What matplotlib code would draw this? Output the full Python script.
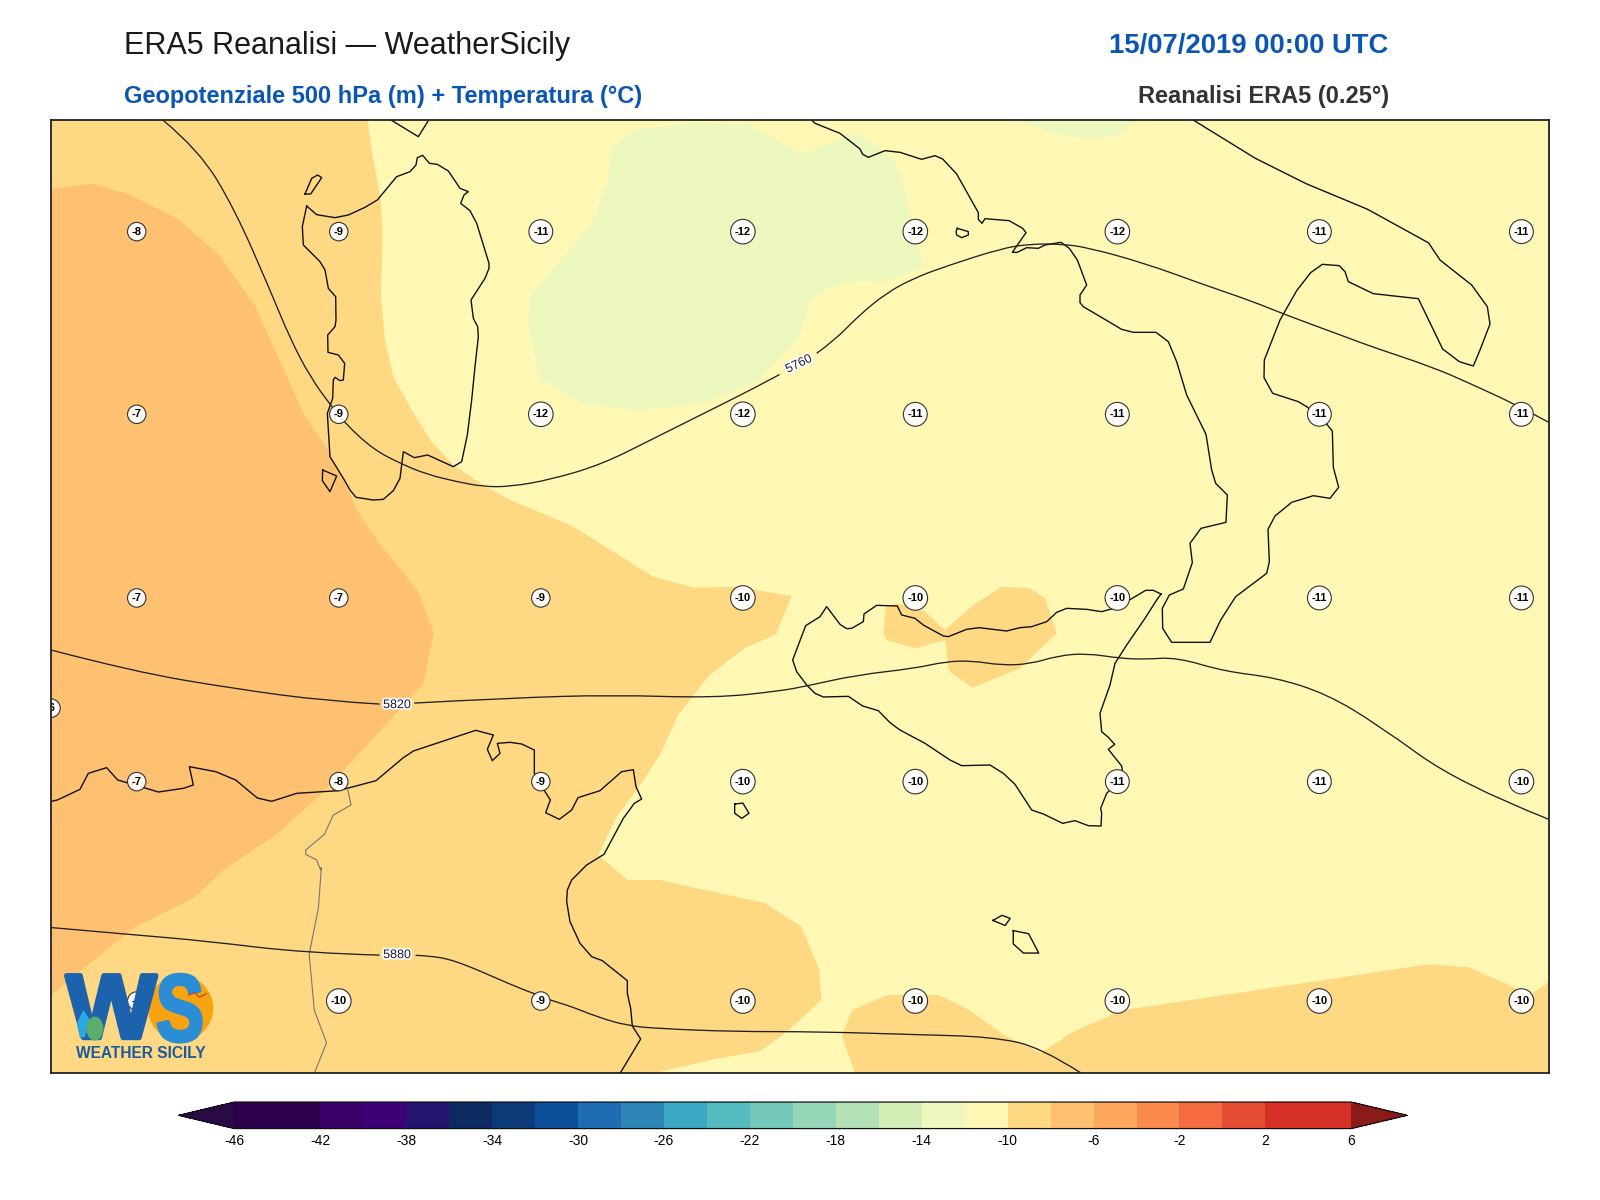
import matplotlib
matplotlib.use("Agg")
import matplotlib.pyplot as plt
import matplotlib.patheffects as pe
from matplotlib.colors import ListedColormap, BoundaryNorm
from matplotlib.cm import ScalarMappable
from matplotlib.patches import Circle, Ellipse, PathPatch, Polygon
from matplotlib.path import Path
from matplotlib.textpath import TextPath
from matplotlib.font_manager import FontProperties

plt.rcParams['font.family'] = ['Liberation Sans', 'DejaVu Sans']
plt.rcParams['axes.unicode_minus'] = False

W, H = 1600, 1200
S = 1600 / 1568


def disp(pts):
    """Points read from the 1568-wide view, in map units (full-size pixels)."""
    return [(x * S, y * S) for x, y in pts]


def crop(x0, y0, pts):
    return [(x0 + x / 3, y0 + y / 3) for x, y in pts]


# ---- colour scale
levels = list(range(-46, 8, 2))
colors = ['#2d004b', '#2d004b', '#3a0068', '#3d0075', '#241470', '#0d2a63', '#0a3a78', '#0a4f97',
          '#1f6cb3', '#2d85b8', '#3ba8c4', '#55bbbf', '#73c7bb', '#95d5b8', '#b4e0b5', '#d3edb6',
          '#ecf8bd', '#fff8b5', '#fed882', '#fec172', '#fda85c', '#fb8a4e', '#f76b43', '#e64e34',
          '#d73027', '#d73027']
under_color = '#2a0a45'
over_color = '#8b1a1a'
cbar_ticks = list(range(-46, 10, 4))

# ---- temperature stations
temp_x = [134, 332, 530, 728, 897, 1095, 1293, 1491]
temp_y = [227, 406, 586, 766, 981]
temp_vals = [
    [-8, -9, -11, -12, -12, -12, -11, -11],
    [-7, -9, -12, -12, -11, -11, -11, -11],
    [-7, -7, -9, -10, -10, -10, -11, -11],
    [-7, -8, -9, -10, -10, -11, -11, -10],
    [-9, -10, -9, -10, -10, -10, -10, -10],
]
extra_temp = (50, 694, -6)

# ---- temperature bands
band_m10_main = (crop(290, 120, [(233, 0), (245, 90), (272, 240), (278, 340), (273, 530), (285, 660), (310, 770), (360, 860),
                                 (420, 960), (490, 1035), (580, 1095), (660, 1140)])
                 + disp([(560, 515), (600, 540), (640, 565), (680, 576), (720, 575), (776, 584), (760, 622), (730, 635),
                         (695, 662), (665, 700)])
                 + crop(400, 720, [(780, 105), (720, 195), (650, 290), (595, 405), (682, 480), (780, 480)])
                 + disp([(680, 870), (750, 885), (785, 908), (803, 950), (805, 980), (770, 1012), (745, 1030), (700, 1038),
                         (640, 1052), (50, 1052), (50, 118)]))
band_m10_sicily = crop(780, 580, [(318, 80), (352, 70), (435, 95), (495, 150), (580, 75), (665, 20), (750, 25), (795, 55),
                                  (830, 160), (720, 265), (578, 323), (515, 280), (505, 265), (495, 180), (405, 205),
                                  (320, 180), (310, 160)])
band_m10_south = disp([(825, 1015), (835, 990), (870, 975), (920, 975), (950, 990), (985, 1015), (1020, 1032), (1050, 1012),
                       (1100, 990), (1200, 975), (1300, 960), (1400, 945), (1440, 948), (1500, 975), (1518, 962),
                       (1518, 1052), (838, 1052)])
band_m8_west = (disp([(50, 185), (90, 180), (125, 190), (175, 215), (215, 250), (250, 300)])
                + crop(290, 120, [(0, 790), (40, 880), (110, 985), (160, 1075), (200, 1170)])
                + disp([(370, 530), (410, 580), (425, 620), (415, 670)])
                + crop(50, 720, [(1020, 0), (900, 130), (810, 225), (690, 335), (520, 450)])
                + disp([(190, 880), (130, 910), (50, 975)]))
band_m14_main = (disp([(600, 145), (620, 128), (680, 120), (735, 122)])
                 + crop(800, 120, [(0, 100), (100, 68), (170, 37), (280, 115), (310, 200), (330, 290), (372, 440), (260, 485),
                                   (170, 483), (80, 505), (28, 547), (0, 650)])
                 + disp([(740, 375), (690, 395), (630, 402), (570, 395), (530, 372), (518, 320), (520, 290), (550, 255),
                         (580, 220), (595, 180)]))
band_m14_north = crop(800, 120, [(640, 0), (760, 38), (860, 58), (950, 48), (1015, 0)])

# ---- geopotential isolines, broken where their labels sit
z5760_left = (disp([(160, 118), (195, 147), (230, 205), (265, 285)])
              + crop(290, 120, [(0, 655), (60, 770), (125, 860), (170, 915), (250, 988), (330, 1030), (410, 1063), (500, 1085),
                                (580, 1100), (660, 1100)])
              + disp([(540, 470), (590, 455), (640, 430), (690, 405), (740, 380), (764, 367)]))
z5760_right = (crop(800, 120, [(50, 700), (105, 660), (175, 588), (260, 518), (345, 473), (440, 438), (605, 385), (690, 372),
                               (785, 372), (865, 383)])
               + crop(1040, 250, [(315, 40), (480, 100), (640, 155), (730, 192), (920, 262), (1000, 292), (1180, 352),
                                  (1300, 405), (1430, 465)])
               + disp([(1518, 414)]))
z5820_left = disp([(50, 637), (130, 658), (230, 675), (320, 687), (372, 690)])
z5820_right = (disp([(406, 689), (500, 684), (600, 681), (700, 684)])
               + crop(780, 580, [(0, 333), (80, 318), (230, 285), (405, 265), (495, 245), (575, 242), (665, 256), (750, 252),
                                 (835, 227), (920, 220), (1020, 235), (1095, 238), (1190, 232)])
               + disp([(1200, 658), (1250, 664), (1300, 680), (1350, 710), (1430, 768), (1518, 803)]))
z5880_left = disp([(50, 909), (130, 916), (200, 922), (300, 934), (372, 936)])
z5880_right = (crop(400, 720, [(47, 706), (80, 707), (162, 719), (340, 797), (395, 818), (455, 842), (510, 858), (590, 890),
                               (680, 917), (780, 926)])
               + disp([(720, 1011), (800, 1011), (900, 1014), (970, 1016), (1020, 1026), (1060, 1052)]))
z_labels = [(783, 357, '5760', 26), (389, 691, '5820', 0), (389, 936, '5880', 0)]

# ---- coastlines
coast_sardinia = crop(290, 120, [(50, 258), (80, 284), (135, 293), (175, 285), (225, 262), (262, 240), (320, 170), (360, 155),
                                 (378, 135), (382, 113), (398, 106), (418, 130), (442, 133), (475, 153), (510, 205), (535, 215),
                                 (522, 225), (512, 250), (540, 272), (560, 310), (597, 430), (597, 445), (585, 475), (543, 540),
                                 (550, 595), (563, 620), (565, 650), (555, 740), (545, 840), (532, 945), (515, 1025), (490, 1040),
                                 (413, 1005), (373, 1013), (340, 995), (330, 1075), (310, 1112), (280, 1138), (250, 1140),
                                 (198, 1132), (180, 1110), (160, 1075), (120, 1010), (112, 880), (128, 835), (130, 780), (135, 772),
                                 (150, 782), (160, 780), (164, 730), (145, 705), (114, 697), (113, 645), (135, 620), (138, 600),
                                 (137, 530), (115, 505), (105, 450), (90, 425), (40, 375), (37, 320), (50, 258)])
coast_north = crop(290, 120, [(303, 0), (385, 50), (413, 5), (415, 0)])
coast_isle1 = crop(290, 120, [(45, 222), (62, 222), (95, 173), (83, 165), (65, 175), (45, 222)])
coast_isle2 = crop(290, 120, [(98, 1050), (140, 1068), (120, 1115), (97, 1082), (98, 1050)])
coast_italy = (crop(800, 120, [(35, 0), (45, 10), (120, 40), (180, 87), (188, 103), (205, 112), (255, 92), (300, 97), (365, 118),
                               (405, 107), (428, 117), (470, 162), (535, 278), (535, 298), (546, 310), (555, 296), (627, 302),
                               (668, 325), (678, 338), (637, 397), (652, 397), (680, 383), (715, 385), (735, 375), (783, 367),
                               (808, 385), (832, 420), (860, 495), (840, 525), (840, 548)])
               + crop(1040, 250, [(130, 170), (245, 238), (280, 247), (348, 247), (385, 275), (410, 335), (440, 435), (498, 553),
                                  (515, 660), (527, 700), (562, 735), (558, 817), (483, 835), (450, 880), (457, 938), (430, 1017),
                                  (388, 1035), (367, 1075), (368, 1135), (395, 1177), (510, 1177), (542, 1110), (587, 1040),
                                  (680, 970), (688, 935), (684, 838), (705, 798), (755, 757), (820, 737), (870, 745), (896, 712),
                                  (880, 652), (877, 543), (850, 510), (800, 470), (775, 455), (698, 430), (672, 383), (673, 330),
                                  (720, 210), (770, 122), (812, 68), (847, 43), (898, 47), (915, 65), (925, 95), (1000, 131),
                                  (1135, 146), (1208, 297), (1258, 335), (1300, 348), (1320, 300), (1350, 222), (1342, 170),
                                  (1295, 105), (1200, 30), (1180, 0)])
               + disp([(1400, 238), (1340, 205), (1280, 180), (1230, 155), (1170, 118)]))
coast_sicily = crop(780, 580, [(1143, 42), (1120, 31), (1097, 31), (1045, 62), (1000, 85), (965, 95), (920, 88), (860, 85), (830, 97),
                               (800, 125), (755, 140), (720, 143), (680, 153), (597, 143), (560, 148), (505, 170), (490, 168),
                               (430, 135), (405, 115), (365, 105), (352, 78), (290, 76), (252, 102), (250, 125), (215, 145),
                               (200, 146), (180, 133), (140, 80), (120, 110), (77, 137), (38, 240), (50, 275), (80, 315), (105, 340),
                               (130, 351), (205, 349), (248, 378), (295, 392), (330, 428), (360, 450), (435, 490), (510, 540),
                               (545, 557), (630, 555), (670, 580), (705, 613), (755, 690), (790, 702), (848, 730), (885, 722),
                               (925, 737), (963, 738), (965, 700), (962, 685), (980, 640), (1010, 610), (1027, 570), (1025, 558),
                               (985, 508), (1004, 493), (985, 472), (965, 455), (960, 400), (990, 315), (1005, 250), (1040, 195),
                               (1095, 115), (1130, 60), (1143, 42)])
coast_africa = (crop(50, 720, [(0, 245), (22, 240), (90, 208), (115, 160), (170, 143), (203, 180), (262, 197), (325, 216), (400, 205),
                               (430, 195), (418, 140), (497, 155), (557, 180), (622, 234), (665, 244), (740, 220), (865, 212),
                               (978, 182), (1060, 113), (1080, 100)])
                + crop(400, 720, [(40, 93), (227, 31), (280, 45), (262, 88), (277, 122), (300, 100), (292, 70), (330, 67), (365, 72),
                                  (403, 90), (403, 160), (432, 210), (451, 240), (437, 278), (478, 298), (515, 270), (534, 233),
                                  (600, 212), (665, 155), (700, 149), (708, 200), (725, 237), (703, 250), (670, 295), (612, 403),
                                  (560, 435), (515, 480), (502, 510), (500, 545), (510, 605), (540, 670), (575, 710), (607, 722),
                                  (682, 782), (682, 820), (692, 865), (697, 918), (722, 957)])
                + disp([(607, 1053)]))
coast_isles = [disp([(720, 788), (728, 787), (734, 797), (727, 802), (720, 797), (720, 788)]),
               crop(800, 120, [(472, 325), (505, 335), (505, 345), (485, 353), (470, 345), (468, 335), (472, 325)]),
               disp([(973, 902), (982, 897), (990, 900), (985, 907), (973, 902)]),
               disp([(993, 912), (1008, 915), (1018, 934), (1003, 934), (993, 925), (993, 912)])]
border_line = (crop(50, 720, [(893, 207), (903, 255), (850, 285), (823, 343), (767, 390), (767, 403), (800, 420), (812, 450)])
               + disp([(315, 850), (312, 890), (303, 935), (308, 990), (320, 1022), (308, 1052)]))

# ---- logo artwork
logo_leaf = crop(40, 930, [(130, 240), (150, 270), (135, 320), (120, 325), (110, 280)])
logo_bird = crop(40, 930, [(445, 195), (465, 188), (478, 202), (500, 190)])


def xs(p):
    return [a for a, _ in p]


def ys(p):
    return [b for _, b in p]


def smooth_path(p):
    """Quadratic Bezier path using the read points as control points."""
    verts = [p[0]]
    codes = [Path.MOVETO]
    for i in range(1, len(p) - 1):
        mid = ((p[i][0] + p[i + 1][0]) / 2, (p[i][1] + p[i + 1][1]) / 2)
        end = mid if i < len(p) - 2 else p[i + 1]
        verts += [p[i], end]
        codes += [Path.CURVE3, Path.CURVE3]
    return Path(verts, codes)


fig = plt.figure(figsize=(W / 100, H / 100), dpi=100, facecolor='white')


def fx(v):
    return v * S / W


def fy(v):
    return 1 - v * S / H


ax = fig.add_axes([fx(50), fy(1052), fx(1518) - fx(50), fy(118) - fy(1052)])
ax.set_xlim(50 * S, 1518 * S)
ax.set_ylim(1052 * S, 118 * S)
ax.set_xticks([])
ax.set_yticks([])
for s in ax.spines.values():
    s.set_linewidth(1.3)
    s.set_color('#222222')
    s.set_zorder(20)

cmap = ListedColormap(colors)
cmap.set_under(under_color)
cmap.set_over(over_color)
norm = BoundaryNorm(levels, cmap.N)

ax.set_facecolor(cmap(norm(-11)))
for poly, val in [(band_m10_main, -9), (band_m10_sicily, -9), (band_m10_south, -9),
                  (band_m8_west, -7), (band_m14_main, -13), (band_m14_north, -13)]:
    ax.fill(xs(poly), ys(poly), color=cmap(norm(val)), lw=0, zorder=1)

for line in [z5760_left, z5760_right, z5820_left, z5820_right, z5880_left, z5880_right]:
    ax.add_patch(PathPatch(smooth_path(line), fc='none', ec='#222222', lw=0.95, zorder=4))
for x, y, t, r in z_labels:
    ax.text(x * S, y * S, t, fontsize=9, color='#1a1a3a', rotation=r, ha='center', va='center', zorder=5,
            rotation_mode='anchor', clip_on=True,
            path_effects=[pe.withStroke(linewidth=2.5, foreground='white')])

for line in [coast_sardinia, coast_north, coast_isle1, coast_isle2, coast_italy, coast_sicily, coast_africa] + coast_isles:
    ax.plot(xs(line), ys(line), color='#111111', lw=1.0, zorder=3, solid_joinstyle='round')
ax.plot(xs(border_line), ys(border_line), color='#777777', lw=0.8, zorder=3)

circle_box = dict(boxstyle='circle,pad=0.38', fc=(1, 1, 1, 0.94), ec='#333333', lw=0.8)
for y, row in zip(temp_y, temp_vals):
    for x, v in zip(temp_x, row):
        ax.text(x * S, y * S, str(v), fontsize=8, fontweight='bold', ha='center', va='center', zorder=6, color='black',
                bbox=circle_box, clip_on=True)
ax.text(extra_temp[0] * S, extra_temp[1] * S, str(extra_temp[2]), fontsize=8, fontweight='bold', ha='center', va='center',
        zorder=6, bbox=circle_box, clip_on=True)


# ---- logo: glyph outlines fitted to the artwork box
def glyph(ch, x0, x1, y0, y1, color, lw):
    tp = TextPath((0, 0), ch, size=100, prop=FontProperties(family='Liberation Sans', weight='bold'))
    v = tp.vertices
    vx0, vx1, vy0, vy1 = v[:, 0].min(), v[:, 0].max(), v[:, 1].min(), v[:, 1].max()
    nv = v.copy()
    nv[:, 0] = x0 + (v[:, 0] - vx0) / (vx1 - vx0) * (x1 - x0)
    nv[:, 1] = y1 - (v[:, 1] - vy0) / (vy1 - vy0) * (y1 - y0)
    ax.add_patch(PathPatch(Path(nv, tp.codes), fc=color, ec=color, lw=lw, joinstyle='round', zorder=8))


ax.add_patch(Circle((177 * S, 988 * S), 32 * S, fc='#f7a30f', ec='none', zorder=7))
glyph('W', 65 * S, 153 * S, 956 * S, 1017 * S, '#1c62ad', 3.5)
glyph('S', 153 * S, 197 * S, 955 * S, 1021 * S, '#2a8dd6', 2.5)
ax.add_patch(Polygon(logo_leaf, closed=True, fc='#29a9e0', ec='none', zorder=9))
ax.add_patch(Ellipse((93 * S, 1008 * S), 17, 24, fc='#5cad6b', ec='none', zorder=9))
ax.plot(xs(logo_bird), ys(logo_bird), color='#c0392b', lw=0.8, zorder=9)
ax.text(138 * S, 1032 * S, 'WEATHER SICILY', fontsize=11.2, fontweight='bold', color='#1a5aa0',
        ha='center', va='center', zorder=8)

# ---- titles
title_blue = '#0b56b5'
fig.text(fx(122), fy(45), 'ERA5 Reanalisi — WeatherSicily', fontsize=22, color='#1a1a1a', ha='left', va='center')
fig.text(fx(1361), fy(45), '15/07/2019 00:00 UTC', fontsize=19.8, fontweight='bold', color=title_blue, ha='right', va='center')
fig.text(fx(122), fy(95), 'Geopotenziale 500 hPa (m) + Temperatura (°C)', fontsize=17, fontweight='bold', color=title_blue,
         ha='left', va='center')
fig.text(fx(1361), fy(95), 'Reanalisi ERA5 (0.25°)', fontsize=17, fontweight='bold', color='#333333', ha='right', va='center')

# ---- colour bar
cax = fig.add_axes([fx(175), fy(1106), fx(1379) - fx(175), fy(1080) - fy(1106)])
cb = fig.colorbar(ScalarMappable(norm=norm, cmap=cmap), cax=cax, orientation='horizontal', extend='both',
                  ticks=cbar_ticks, drawedges=False, spacing='proportional')
cb.ax.tick_params(labelsize=10, length=0, pad=4)
cb.ax.minorticks_off()
cb.outline.set_linewidth(0.9)
cb.outline.set_edgecolor('#111111')

fig.savefig('out.png', dpi=100)
